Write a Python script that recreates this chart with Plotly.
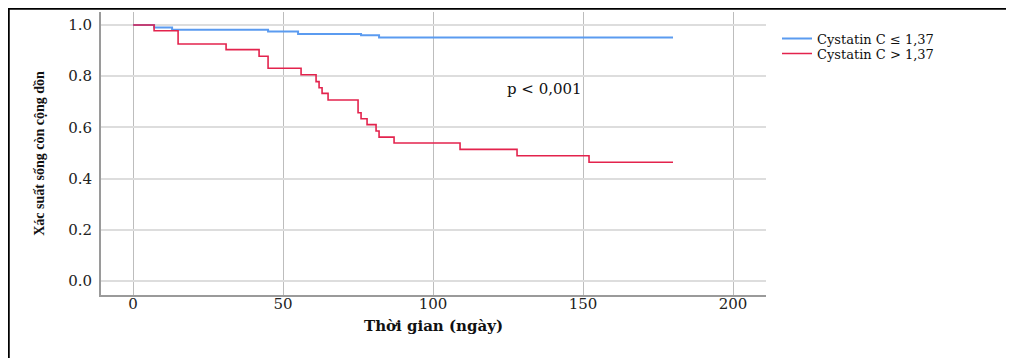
import plotly.graph_objects as go

# Kaplan-Meier step data
blue_name = "Cystatin C ≤ 1,37"
blue_time = [0, 7, 13, 45, 55, 76, 82, 180]
blue_surv = [1.0, 0.990, 0.982, 0.975, 0.965, 0.960, 0.951, 0.951]

red_name = "Cystatin C > 1,37"
red_time = [0, 7, 15, 31, 42, 45, 56, 61, 62, 63, 65, 75, 76, 78, 81, 82, 87, 109, 128, 152, 180]
red_surv = [1.0, 0.978, 0.926, 0.904, 0.878, 0.831, 0.806, 0.779, 0.755, 0.733, 0.707,
            0.657, 0.634, 0.611, 0.586, 0.562, 0.539, 0.514, 0.489, 0.464, 0.464]

x_ticks = [0, 50, 100, 150, 200]
y_ticks = [0.0, 0.2, 0.4, 0.6, 0.8, 1.0]
y_tick_text = ["0.0", "0.2", "0.4", "0.6", "0.8", "1.0"]

x_title = "Thời gian (ngày)"
y_title = "Xác suất sống còn cộng dồn"
p_text = "p < 0,001"
p_pos = (137, 0.75)

BLUE = "#5b9bf0"
RED = "#e3234d"
SERIF = "DejaVu Serif"

fig = go.Figure()
fig.add_trace(go.Scatter(x=blue_time, y=blue_surv, mode="lines", name=blue_name,
                         line=dict(color=BLUE, width=2, shape="hv"), legend="legend"))
fig.add_trace(go.Scatter(x=red_time, y=red_surv, mode="lines", name=red_name,
                         line=dict(color=RED, width=1.6, shape="hv"), legend="legend2"))

fig.add_annotation(x=p_pos[0], y=p_pos[1], text=p_text, showarrow=False,
                   font=dict(family=SERIF, size=15, color="#111"))

OFF = 8  # page body margin
W, H = 1014 - OFF, 358 - OFF
L, R, T, B = 101 - OFF, 248, 12 - OFF, 63
pw, ph = W - L - R, H - T - B

def px(xs):  # screen x -> paper x
    return (xs - OFF - L) / pw

def py(ys):  # screen y -> paper y
    return 1 - (ys - OFF - T) / ph

# outer frame (top and left edges)
fig.add_shape(type="line", xref="paper", yref="paper", x0=px(8), x1=px(1020), y0=py(8.5), y1=py(8.5),
              line=dict(color="black", width=2.5))
fig.add_shape(type="line", xref="paper", yref="paper", x0=px(8.5), x1=px(8.5), y0=py(8), y1=py(370),
              line=dict(color="black", width=2.5))

legend_common = dict(font=dict(family=SERIF, size=13, color="#111"), bgcolor="rgba(0,0,0,0)",
                     borderwidth=0, xanchor="left", yanchor="middle", itemwidth=30)
fig.update_layout(
    width=W, height=H,
    margin=dict(l=L, r=R, t=T, b=B, autoexpand=False),
    paper_bgcolor="white", plot_bgcolor="white",
    showlegend=True,
    legend=dict(x=px(777), y=py(38.5), **legend_common),
    legend2=dict(x=px(777), y=py(53.5), **legend_common),
    xaxis=dict(range=[-10.7, 211], tickvals=x_ticks, showgrid=True, gridcolor="#bdbdbd", gridwidth=1,
               zeroline=False, showline=True, linecolor="#9a9a9a", linewidth=2,
               ticks="", ticklen=0, ticklabelstandoff=-6, automargin=False,
               tickfont=dict(family=SERIF, size=15, color="#222"),
               title=dict(text=x_title, standoff=8,
                          font=dict(family=SERIF, size=15, color="#111", weight="bold"))),
    yaxis=dict(range=[-0.055, 1.051], tickvals=y_ticks, ticktext=y_tick_text, showgrid=True,
               gridcolor="#dddddd", gridwidth=1.5,
               zeroline=False, showline=True, linecolor="#9a9a9a", linewidth=2,
               ticks="", ticklabelstandoff=4, automargin=False,
               tickfont=dict(family=SERIF, size=15, color="#222"),
               title=dict(text=y_title, standoff=20,
                          font=dict(family="Liberation Serif", size=14, color="#111", weight="bold"))),
)

fig.write_html("out.html")
